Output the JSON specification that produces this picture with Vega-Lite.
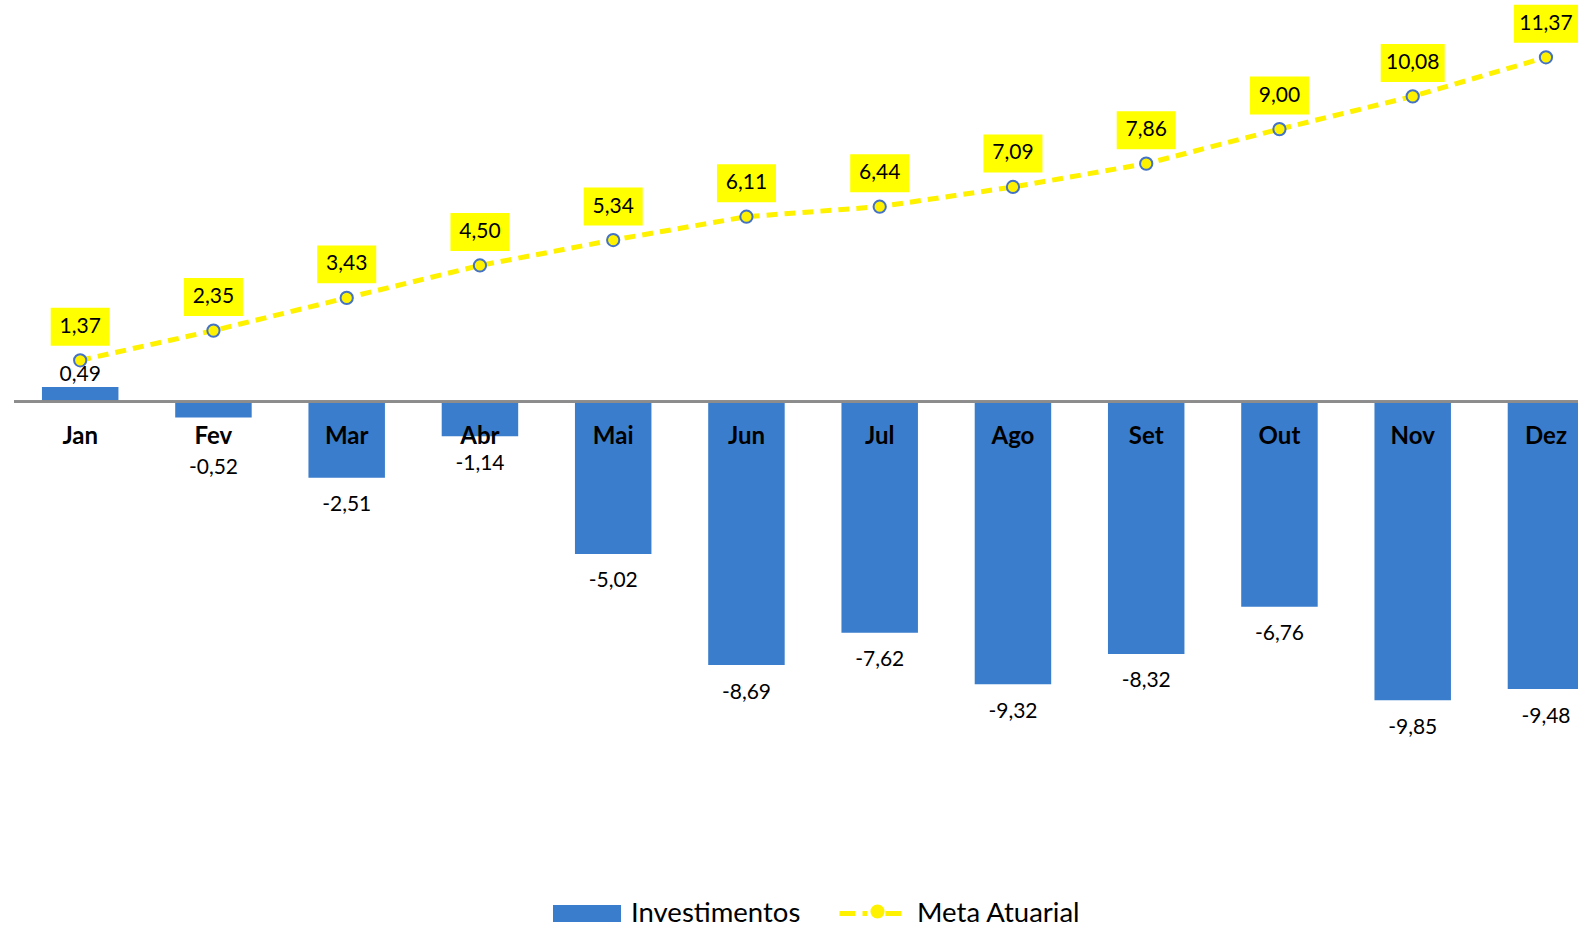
{
  "$schema": "https://vega.github.io/schema/vega-lite/v6.json",
  "autosize": {"type": "none"},
  "padding": {"left": 14, "top": 0, "right": 0, "bottom": 86},
  "width": 1564,
  "height": 840,
  "background": "white",
  "config": {
    "view": {"stroke": null},
    "font": "Lato",
    "locale": {"number": {"decimal": ",", "thousands": ".", "grouping": [3], "currency": ["R$ ", ""], "minus": "-"}}
  },
  "data": {"values": [
    {"m": "Jan", "inv": 0.49, "meta": 1.37},
    {"m": "Fev", "inv": -0.52, "meta": 2.35},
    {"m": "Mar", "inv": -2.51, "meta": 3.43},
    {"m": "Abr", "inv": -1.14, "meta": 4.50},
    {"m": "Mai", "inv": -5.02, "meta": 5.34},
    {"m": "Jun", "inv": -8.69, "meta": 6.11},
    {"m": "Jul", "inv": -7.62, "meta": 6.44},
    {"m": "Ago", "inv": -9.32, "meta": 7.09},
    {"m": "Set", "inv": -8.32, "meta": 7.86},
    {"m": "Out", "inv": -6.76, "meta": 9.00},
    {"m": "Nov", "inv": -9.85, "meta": 10.08},
    {"m": "Dez", "inv": -9.48, "meta": 11.37}
  ]},
  "encoding": {
    "x": {"field": "m", "type": "nominal", "sort": null, "axis": null,
      "scale": {"range": [27.95, 1570.2], "paddingInner": 0.426, "paddingOuter": 0, "align": 0.5}}
  },
  "layer": [
    {
      "mark": {"type": "bar"},
      "encoding": {
        "y": {"field": "inv", "type": "quantitative", "axis": null,
          "scale": {"domain": [-14.462, 13.261], "nice": false, "zero": false}},
        "y2": {"datum": 0},
        "fill": {"datum": "Investimentos", "type": "nominal",
          "scale": {"domain": ["Investimentos"], "range": ["#3A7DCC"]},
          "legend": {"orient": "none", "legendX": 539, "legendY": 879.5, "title": null, "padding": 0,
            "symbolType": "M-1,-0.25H1V0.25H-1Z", "symbolSize": 4624, "symbolStrokeWidth": 0,
            "labelFont": "Lato", "labelFontSize": 27.5, "labelColor": "#000000", "labelOffset": 10, "labelLimit": 0}}
      }
    },
    {
      "mark": {"type": "rule", "color": "#8C8C8C", "strokeWidth": 2},
      "encoding": {"y": {"datum": 0}, "x": null}
    },
    {
      "mark": {"type": "line", "strokeWidth": 5, "strokeDash": [11, 7]},
      "encoding": {
        "y": {"field": "meta", "type": "quantitative"},
        "stroke": {"datum": "Meta Atuarial", "type": "nominal",
          "scale": {"domain": ["Meta Atuarial"], "range": ["#FFF200"]},
          "legend": {"orient": "none", "legendX": 823, "legendY": 880, "title": null, "padding": 0,
            "symbolType": "M-1,0H-0.484M-0.258,0H-0.097M0.48,0H1",
            "symbolSize": 3844, "symbolStrokeWidth": 5,
            "labelFont": "Lato", "labelFontSize": 27.5, "labelColor": "#000000", "labelOffset": 13, "labelLimit": 0}}
      }
    },
    {
      "mark": {"type": "point", "filled": false, "fill": "#FFF200", "fillOpacity": 1, "stroke": "#4472C4", "strokeWidth": 2, "size": 150, "opacity": 1},
      "encoding": {
        "y": {"field": "meta", "type": "quantitative"},
        "shape": {"datum": "c", "type": "nominal",
          "scale": {"domain": ["c"], "range": ["circle"]},
          "legend": {"orient": "none", "legendX": 855, "legendY": 903, "title": null, "padding": 0,
            "symbolSize": 200, "symbolStrokeWidth": 2, "symbolStrokeColor": "#4472C4", "symbolFillColor": "#FFF200", "symbolOpacity": 1,
            "labelExpr": "''", "labelFontSize": 1, "labelOffset": 0}}
      }
    },
    {
      "mark": {"type": "point", "filled": true, "color": "#FFFF00", "opacity": 1, "yOffset": -33.5},
      "encoding": {
        "y": {"field": "meta", "type": "quantitative"},
        "shape": {"condition": {"test": "datum.meta >= 10", "value": "M-1,-0.594H1V0.594H-1Z"}, "value": "M-1,-0.644H1V0.644H-1Z"},
        "size": {"condition": {"test": "datum.meta >= 10", "value": 4096}, "value": 3481}
      }
    },
    {
      "mark": {"type": "text", "font": "Lato", "fontSize": 21, "color": "#000000", "baseline": "middle", "dy": -33.5},
      "encoding": {
        "y": {"field": "meta", "type": "quantitative"},
        "text": {"field": "meta", "type": "quantitative", "format": ".2f"}
      }
    },
    {
      "mark": {"type": "text", "font": "Lato", "fontSize": 24, "fontWeight": "bold", "color": "#000000", "baseline": "middle", "dy": 35},
      "encoding": {
        "y": {"datum": 0},
        "text": {"field": "m", "type": "nominal"}
      }
    },
    {
      "transform": [{"filter": "datum.inv > 0"}],
      "mark": {"type": "text", "font": "Lato", "fontSize": 21, "color": "#000000", "baseline": "middle", "dy": -11.5},
      "encoding": {
        "y": {"field": "inv", "type": "quantitative"},
        "text": {"field": "inv", "type": "quantitative", "format": ".2f"}
      }
    },
    {
      "transform": [{"filter": "datum.inv < 0 && datum.m != 'Fev'"}],
      "mark": {"type": "text", "font": "Lato", "fontSize": 21, "color": "#000000", "baseline": "middle", "dy": 27.5},
      "encoding": {
        "y": {"field": "inv", "type": "quantitative"},
        "text": {"field": "inv", "type": "quantitative", "format": ".2f"}
      }
    },
    {
      "transform": [{"filter": "datum.m == 'Fev'"}],
      "mark": {"type": "text", "font": "Lato", "fontSize": 21, "color": "#000000", "baseline": "middle", "dy": 50.5},
      "encoding": {
        "y": {"field": "inv", "type": "quantitative"},
        "text": {"field": "inv", "type": "quantitative", "format": ".2f"}
      }
    }
  ]
}
